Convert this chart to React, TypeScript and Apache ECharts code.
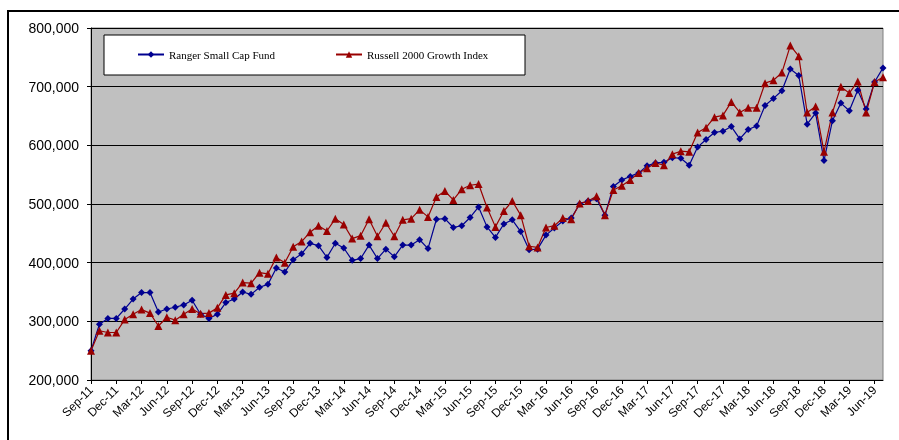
import React, { useEffect, useRef } from "react";
import * as echarts from "echarts";

const MONTH_NAMES = ["Jan", "Feb", "Mar", "Apr", "May", "Jun", "Jul", "Aug", "Sep", "Oct", "Nov", "Dec"];
const START_YEAR = 2011;
const START_MONTH = 8; // Sep
const N_POINTS = 95; // Sep-11 .. Jul-19
const categories: string[] = Array.from({ length: N_POINTS }, (_, i) => {
  const m = (START_MONTH + i) % 12;
  const y = START_YEAR + Math.floor((START_MONTH + i) / 12);
  return `${MONTH_NAMES[m]}-${String(y % 100).padStart(2, "0")}`;
});

const yTicks = [200000, 300000, 400000, 500000, 600000, 700000, 800000];

// values in thousands
const rangerSmallCap = [
  250, 295, 305, 305, 321, 338, 349, 349, 316, 321, 324, 328, 336, 312, 305, 312,
  332, 338, 350, 346, 358, 363, 391, 384, 405, 415, 433, 429, 409, 433, 425, 404,
  407, 430, 407, 423, 410, 430, 430, 439, 424, 474, 475, 460, 463, 477, 495, 461,
  443, 466, 473, 453, 422, 423, 447, 459, 471, 476, 500, 505, 509, 481, 530, 541,
  547, 553, 565, 570, 571, 579, 578, 566, 597, 610, 622, 624, 632, 611, 627, 633,
  668, 680, 693, 730, 719, 636, 655, 574, 642, 672, 659, 694, 662, 708, 732,
];

const russell2000Growth = [
  250, 284, 281, 281, 303, 312, 320, 314, 292, 307, 302, 312, 321, 313, 314, 323,
  345, 348, 366, 365, 383, 381, 409, 400, 427, 436, 452, 463, 454, 475, 465, 441,
  446, 474, 445, 468, 445, 473, 475, 490, 478, 512, 522, 507, 525, 532, 534, 494,
  461, 488, 505, 481, 428, 426, 460, 463, 476, 474, 501, 505, 513, 481, 524, 531,
  541, 553, 561, 570, 566, 585, 590, 589, 622, 630, 648, 651, 674, 656, 664, 664,
  706, 711, 724, 770, 752, 656, 666, 589, 656, 700, 689, 709, 656, 708, 716,
];

export default function App() {
  const ref = useRef<HTMLDivElement>(null);
  useEffect(() => {
    if (!ref.current) return;
    const chart = echarts.init(ref.current, null, { renderer: "svg" });
    const every3 = (i: number) => i % 3 === 0;
    chart.setOption({
      animation: false,
      grid: {
        left: 91,
        top: 28,
        right: 16,
        bottom: 60,
        show: true,
        backgroundColor: "#C0C0C0",
        borderColor: "#808080",
        borderWidth: 1,
      },
      graphic: [
        {
          type: "rect",
          z: 3,
          shape: { x: 104, y: 35, width: 421, height: 40 },
          style: { fill: "#FFFFFF", stroke: "#000000", lineWidth: 1 },
        },
      ],
      legend: {
        left: 137,
        top: 49,
        padding: 0,
        itemWidth: 26,
        itemHeight: 8,
        itemGap: 60,
        z: 5,
        textStyle: { fontFamily: "Liberation Serif", fontSize: 11, color: "#000" },
        data: ["Ranger Small Cap Fund", "Russell 2000 Growth Index"],
      },
      xAxis: {
        type: "category",
        data: categories,
        boundaryGap: false,
        axisLine: { lineStyle: { color: "#000", width: 1 } },
        axisTick: { show: true, interval: (i: number) => every3(i), length: 4, lineStyle: { color: "#000" } },
        axisLabel: {
          interval: (i: number) => every3(i),
          rotate: 45,
          margin: 8,
          fontFamily: "Liberation Sans",
          fontSize: 12,
          color: "#000",
        },
        splitLine: { show: false },
      },
      yAxis: {
        type: "value",
        min: yTicks[0],
        max: yTicks[yTicks.length - 1],
        interval: 100000,
        axisLine: { show: true, lineStyle: { color: "#000", width: 1 } },
        axisTick: { show: true, length: 4, lineStyle: { color: "#000" } },
        axisLabel: {
          margin: 12,
          fontFamily: "Liberation Sans",
          fontSize: 14,
          color: "#000",
          formatter: (v: number) => v.toLocaleString("en-US"),
        },
        splitLine: { show: true, lineStyle: { color: "#000", width: 1 } },
      },
      series: [
        {
          name: "Ranger Small Cap Fund",
          type: "line",
          data: rangerSmallCap.map((v) => v * 1000),
          symbol: "diamond",
          symbolSize: 7,
          showAllSymbol: true,
          lineStyle: { color: "#000090", width: 1.2 },
          itemStyle: { color: "#000090" },
          color: "#000090",
        },
        {
          name: "Russell 2000 Growth Index",
          type: "line",
          data: russell2000Growth.map((v) => v * 1000),
          symbol: "triangle",
          symbolSize: 8,
          showAllSymbol: true,
          lineStyle: { color: "#990000", width: 1.2 },
          itemStyle: { color: "#990000" },
          color: "#990000",
        },
      ],
    });
    return () => chart.dispose();
  }, []);
  return (
    <>
      <div
        style={{
          position: "fixed",
          left: 7,
          top: 10,
          width: 900,
          height: 440,
          border: "2px solid #000",
        }}
      />
      <div ref={ref} style={{ position: "fixed", left: 0, top: 0, width: 899, height: 440 }} />
    </>
  );
}
